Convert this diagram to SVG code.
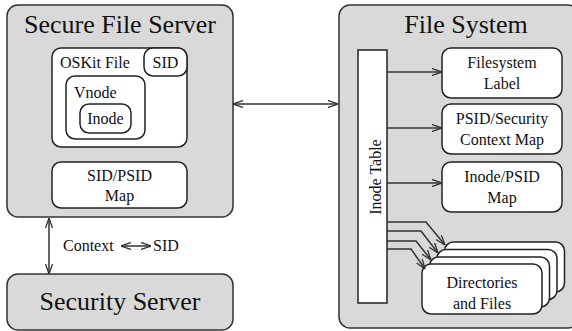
<svg xmlns="http://www.w3.org/2000/svg" width="572" height="331" viewBox="0 0 572 331">
<defs>
<style>
.big{fill:#d9d9d9;stroke:#333;stroke-width:1.5}
.box{fill:#fff;stroke:#222;stroke-width:1.5}
text{font-family:'Liberation Serif','Times New Roman','DejaVu Serif',serif;fill:#111}
.title{font-size:26px;text-anchor:middle}
.lbl{font-size:16px}
.c{text-anchor:middle}
.ln{fill:none;stroke:#333;stroke-width:1.5}
</style>
<marker id="ah" viewBox="0 0 10 8" refX="10" refY="4" markerWidth="10" markerHeight="8" markerUnits="userSpaceOnUse" orient="auto-start-reverse">
<path d="M0,0.5 L10,4 L0,7.5" fill="none" stroke="#333" stroke-width="1.3"/>
</marker>
</defs>
<rect width="572" height="331" fill="#fff"/>
<g font-family="Liberation Serif, serif">
<g id="secure-file-server">
<rect class="big" x="7" y="5" width="226" height="212" rx="11"/>
<text class="title" x="120" y="33">Secure File Server</text>
</g>
<g id="oskit-file">
<rect class="box" x="52" y="48" width="135" height="99" rx="9"/>
<text class="lbl" x="60" y="68">OSKit File</text>
</g>
<g id="sid">
<rect class="box" x="144" y="48" width="43" height="28" rx="9"/>
<text class="lbl c" x="165.5" y="68">SID</text>
</g>
<g id="vnode">
<rect class="box" x="66" y="76" width="79" height="63" rx="9"/>
<text class="lbl" x="74" y="98">Vnode</text>
</g>
<g id="inode">
<rect class="box" x="80" y="104" width="51" height="29" rx="9"/>
<text class="lbl c" x="105.5" y="124">Inode</text>
</g>
<g id="sid-psid-map">
<rect class="box" x="52" y="162" width="135" height="46" rx="9"/>
<text class="lbl c" x="119.5" y="181">SID/PSID</text>
<text class="lbl c" x="119.5" y="201">Map</text>
</g>
<g id="security-server">
<rect class="big" x="7" y="274" width="226" height="56" rx="11"/>
<text class="title" x="120" y="310">Security Server</text>
</g>
<g id="file-system">
<rect class="big" x="339" y="5" width="240" height="323" rx="11"/>
<text class="title" x="466" y="33">File System</text>
</g>
<g id="inode-table">
<rect class="box" x="358" y="50" width="29" height="253" rx="0"/>
<text class="lbl c" transform="translate(381,177) rotate(-90)" font-size="16.5">Inode Table</text>
</g>
<g id="filesystem-label">
<rect class="box" x="442" y="48" width="120" height="50" rx="9"/>
<text class="lbl c" x="502" y="68">Filesystem</text>
<text class="lbl c" x="502" y="89">Label</text>
</g>
<g id="psid-context-map">
<rect class="box" x="442" y="104" width="120" height="50" rx="9"/>
<text class="lbl c" x="502" y="124">PSID/Security</text>
<text class="lbl c" x="502" y="145">Context Map</text>
</g>
<g id="inode-psid-map">
<rect class="box" x="442" y="162" width="120" height="50" rx="9"/>
<text class="lbl c" x="502" y="182">Inode/PSID</text>
<text class="lbl c" x="502" y="203">Map</text>
</g>
<g id="directories-and-files">
<rect class="box" x="444.5" y="242" width="120" height="50" rx="9"/>
<rect class="box" x="437" y="249.5" width="120" height="50" rx="9"/>
<rect class="box" x="429.5" y="257" width="120" height="50" rx="9"/>
<rect class="box" x="422" y="264" width="120" height="50" rx="9"/>
<text class="lbl c" x="482" y="288">Directories</text>
<text class="lbl c" x="482" y="309">and Files</text>
</g>
<g id="connectors">
<line class="ln" x1="233" y1="104" x2="338" y2="104" marker-start="url(#ah)" marker-end="url(#ah)"/>
<line class="ln" x1="49" y1="218" x2="49" y2="274" marker-start="url(#ah)" marker-end="url(#ah)"/>
<line class="ln" x1="121" y1="246" x2="151" y2="246" stroke-width="1.2" marker-start="url(#ah)" marker-end="url(#ah)"/>
<line class="ln" x1="387" y1="72" x2="442" y2="72" marker-end="url(#ah)"/>
<line class="ln" x1="387" y1="128" x2="442" y2="128" marker-end="url(#ah)"/>
<line class="ln" x1="387" y1="183" x2="442" y2="183" marker-end="url(#ah)"/>
<polyline class="ln" points="387,222 426,222 445,245" marker-end="url(#ah)"/>
<polyline class="ln" points="387,231 421,231 438,253" marker-end="url(#ah)"/>
<polyline class="ln" points="387,241 416,241 431,260" marker-end="url(#ah)"/>
<polyline class="ln" points="387,249 411,249 425,269" marker-end="url(#ah)"/>
</g>
<g id="context-sid-label">
<text class="lbl" x="63" y="251">Context</text>
<text class="lbl" x="153" y="251">SID</text>
</g>
</g>
</svg>
